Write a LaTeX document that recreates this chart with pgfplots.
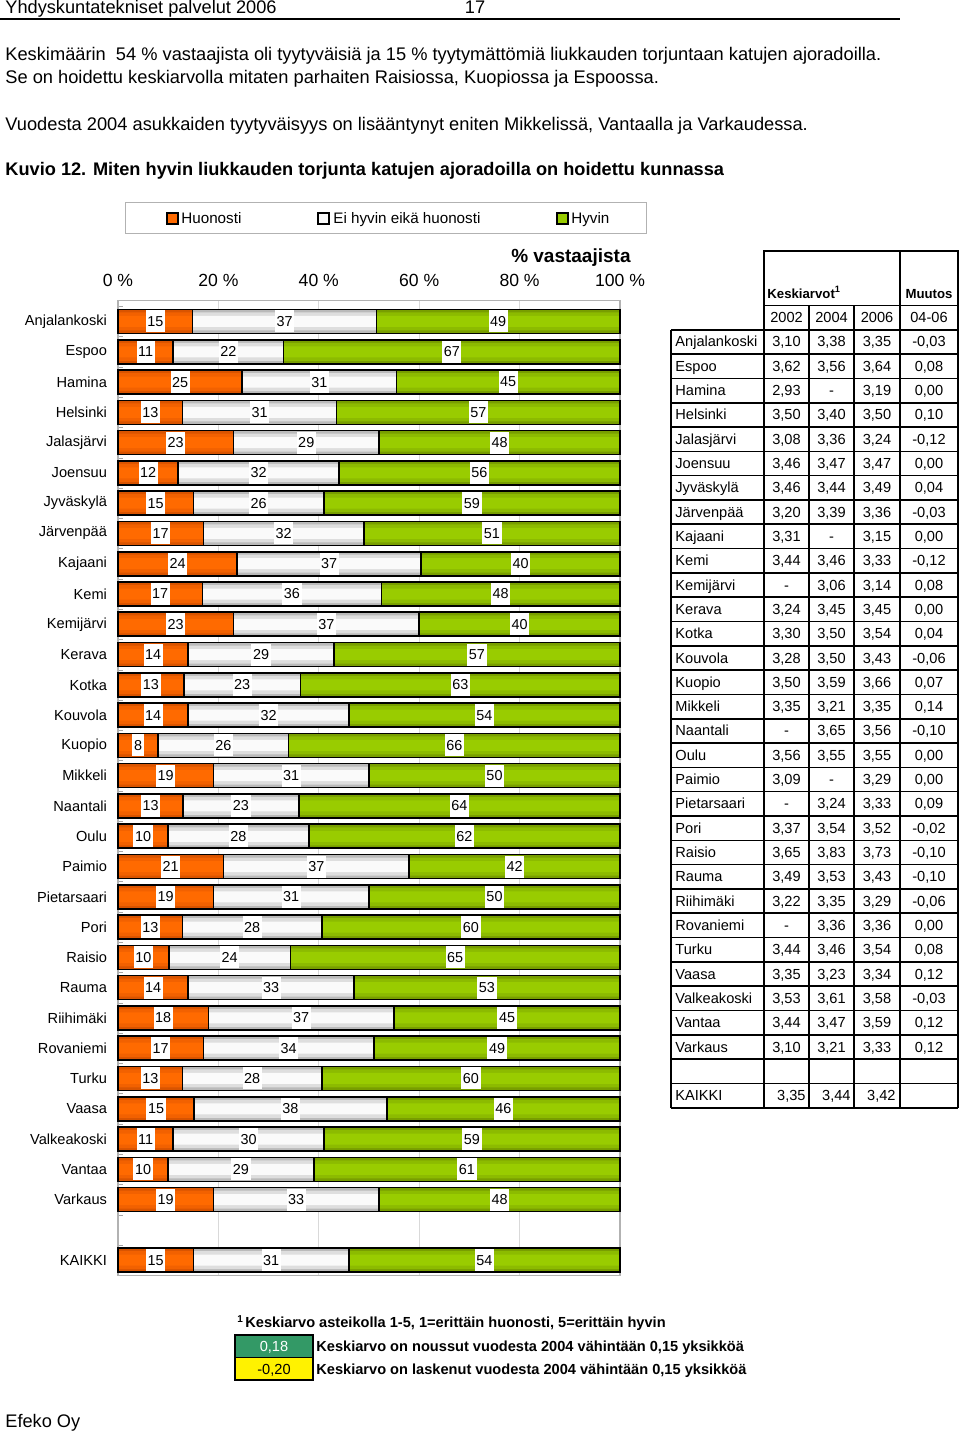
\documentclass[border=0pt]{standalone}
\usepackage{fontspec}
\setmainfont{Liberation Sans}
\usepackage{pgfplots}
\pgfplotsset{compat=1.18}
\usepackage{pgfplotstable}
\newcommand\fs[1]{\fontsize{#1pt}{#1pt}\selectfont}
\definecolor{orC}{HTML}{FF6A00}
\definecolor{orM}{HTML}{F26100}
\definecolor{orE}{HTML}{D95400}
\definecolor{grC}{HTML}{FAFAFA}
\definecolor{grM}{HTML}{DEDEDE}
\definecolor{grE}{HTML}{BABABA}
\definecolor{gnC}{HTML}{99CC00}
\definecolor{gnM}{HTML}{8CBB00}
\definecolor{gnE}{HTML}{789E00}
\definecolor{tabgreen}{HTML}{339966}

\pgfplotstableread{
y a b c
0 15 37 49
1 11 22 67
2 25 31 45
3 13 31 57
4 23 29 48
5 12 32 56
6 15 26 59
7 17 32 51
8 24 37 40
9 17 36 48
10 23 37 40
11 14 29 57
12 13 23 63
13 14 32 54
14 8 26 66
15 19 31 50
16 13 23 64
17 10 28 62
18 21 37 42
19 19 31 50
20 13 28 60
21 10 24 65
22 14 33 53
23 18 37 45
24 17 34 49
25 13 28 60
26 15 38 46
27 11 30 59
28 10 29 61
29 19 33 48
31 15 31 54
}\data

\pgfplotsset{
  geom/.style={at={(184.5pt,-393.9pt)}, anchor=center, scale only axis,
    width=251pt, height=487.5pt, xmin=0, xmax=100, ymin=-31.5, ymax=0.7, clip=false},
  layer/.style={geom, hide axis, xbar stacked, bar width=#1},
  table/sa/.style={x expr={\thisrow{a}*100/(\thisrow{a}+\thisrow{b}+\thisrow{c})}, y expr={-\thisrow{y}}},
  table/sb/.style={x expr={\thisrow{b}*100/(\thisrow{a}+\thisrow{b}+\thisrow{c})}, y expr={-\thisrow{y}}},
  table/sc/.style={x expr={\thisrow{c}*100/(\thisrow{a}+\thisrow{b}+\thisrow{c})}, y expr={-\thisrow{y}}},
  lab/.style={draw=none, mark=none, nodes near coords, point meta=explicit symbolic,
    every node near coord/.append style={fill=white, inner xsep=0.8pt, inner ysep=0pt, minimum height=11pt, font=\fs{7.2}, anchor=center, text=black}},
}

\newcommand\trow[6]{%
  \pgfmathsetmacro\ty{347+#1*24.31}%
  \node[anchor=base west,inner sep=0,font=\fs{7.3}] at (675,\ty) {#2};
  \node[anchor=base,inner sep=0,font=\fs{7.3}] at (786.5,\ty) {#3};
  \node[anchor=base,inner sep=0,font=\fs{7.3}] at (831.5,\ty) {#4};
  \node[anchor=base,inner sep=0,font=\fs{7.3}] at (877,\ty) {#5};
  \node[anchor=base,inner sep=0,font=\fs{7.3}] at (929,\ty) {#6};
}

\begin{document}
\begin{tikzpicture}[x=0.5pt,y=-0.5pt]
\useasboundingbox (0,0) rectangle (960,1433);
% header
\node[anchor=base west,inner sep=0,font=\fs{9.1}] at (5,14) {Yhdyskuntatekniset palvelut 2006};
\node[anchor=base,inner sep=0,font=\fs{9.1}] at (475,14) {17};
\draw[line width=1pt] (0,19.5) -- (900,19.5);
% body text
\node[anchor=base west,inner sep=0,font=\fs{9.13}] at (5,61) {Keskimäärin\ \ 54 \% vastaajista oli tyytyväisiä ja 15 \% tyytymättömiä liukkauden torjuntaan katujen ajoradoilla.};
\node[anchor=base west,inner sep=0,font=\fs{9.13}] at (5,84) {Se on hoidettu keskiarvolla mitaten parhaiten Raisiossa, Kuopiossa ja Espoossa.};
\node[anchor=base west,inner sep=0,font=\fs{9.13}] at (5,131) {Vuodesta 2004 asukkaiden tyytyväisyys on lisääntynyt eniten Mikkelissä, Vantaalla ja Varkaudessa.};
\node[anchor=base west,inner sep=0,font=\bfseries\fs{9.1}] at (5,176) {Kuvio 12. Miten hyvin liukkauden torjunta katujen ajoradoilla on hoidettu kunnassa};
% legend
\draw[gray!60,line width=0.5pt] (125,203) rectangle (646,234);
\draw[line width=0.6pt,fill=orC] (167,213) rectangle (178,224);
\node[anchor=base west,inner sep=0,font=\fs{7.6}] at (181,224) {Huonosti};
\draw[line width=0.6pt,fill=grC] (318,213) rectangle (329,224);
\node[anchor=base west,inner sep=0,font=\fs{7.6}] at (333,224) {Ei hyvin eikä huonosti};
\draw[line width=0.6pt,fill=gnC] (557,213) rectangle (568,224);
\node[anchor=base west,inner sep=0,font=\fs{7.6}] at (571,224) {Hyvin};
\node[anchor=base east,inner sep=0,font=\bfseries\fs{9.5}] at (631,263) {\% vastaajista};

% bars: base layer with axis
\begin{axis}[geom,
  xbar stacked, bar width=12pt,
  xtick={0,20,40,60,80,100},
  xticklabels={0 \%,20 \%,40 \%,60 \%,80 \%,100 \%},
  xticklabel pos=right, xtick pos=right,
  xticklabel style={font=\fs{8.8}, yshift=3.5pt},
  ytick={0,-1,-2,-3,-4,-5,-6,-7,-8,-9,-10,-11,-12,-13,-14,-15,-16,-17,-18,-19,-20,-21,-22,-23,-24,-25,-26,-27,-28,-29,-31},
  yticklabels={Anjalankoski,Espoo,Hamina,Helsinki,Jalasjärvi,Joensuu,Jyväskylä,Järvenpää,Kajaani,Kemi,Kemijärvi,Kerava,Kotka,Kouvola,Kuopio,Mikkeli,Naantali,Oulu,Paimio,Pietarsaari,Pori,Raisio,Rauma,Riihimäki,Rovaniemi,Turku,Vaasa,Valkeakoski,Vantaa,Varkaus,KAIKKI},
  yticklabel style={font=\fs{7.3}, xshift=-2pt},
  ytick pos=left,
  minor ytick={-31.5,-30.5,...,0.5},
  major tick length=0pt, minor tick length=2.5pt,
  minor tick style={gray!70},
  xmajorgrids, major grid style={gray!30,line width=0.6pt},
  axis line style={gray!60,line width=0.6pt},
  /pgf/number format/assume math mode=true,
]
\addplot[draw=none, fill=orE] table[sa] {\data};
\addplot[draw=none, fill=grE] table[sb] {\data};
\addplot[draw=none, fill=gnE] table[sc] {\data};
\end{axis}
\begin{axis}[layer=9pt]
\addplot[draw=none, fill=orM] table[sa] {\data};
\addplot[draw=none, fill=grM] table[sb] {\data};
\addplot[draw=none, fill=gnM] table[sc] {\data};
\end{axis}
\begin{axis}[layer=5.5pt]
\addplot[draw=none, fill=orC] table[sa] {\data};
\addplot[draw=none, fill=grC] table[sb] {\data};
\addplot[draw=none, fill=gnC] table[sc] {\data};
\end{axis}
\begin{axis}[layer=12pt]
\addplot[draw=black, line width=0.8pt, fill=none] table[sa] {\data};
\addplot[draw=black, line width=0.8pt, fill=none] table[sb] {\data};
\addplot[draw=black, line width=0.8pt, fill=none] table[sc] {\data};
\end{axis}

% value labels
\begin{axis}[geom, hide axis]
\addplot[lab] table[x expr={0.5*\thisrow{a}*100/(\thisrow{a}+\thisrow{b}+\thisrow{c})}, y expr={-\thisrow{y}}, meta=a] {\data};
\addplot[lab] table[x expr={(\thisrow{a}+0.5*\thisrow{b})*100/(\thisrow{a}+\thisrow{b}+\thisrow{c})}, y expr={-\thisrow{y}}, meta=b] {\data};
\addplot[lab] table[x expr={(\thisrow{a}+\thisrow{b}+0.5*\thisrow{c})*100/(\thisrow{a}+\thisrow{b}+\thisrow{c})}, y expr={-\thisrow{y}}, meta=c] {\data};
\end{axis}

% table grid
\begin{scope}[line width=0.8pt]
\draw (764,251) rectangle (958,305.5);
\draw (900,251) -- (900,305.5);
\foreach \xx in {764,809,854,900,958} \draw (\xx,305.5) -- (\xx,329.8);
\foreach \k in {0,...,32} \draw (671,329.8+\k*24.31) -- (958,329.8+\k*24.31);
\foreach \xx in {671,764,809,854,900,958} \draw (\xx,329.8) -- (\xx,1107.7);
\end{scope}
\node[anchor=base west,inner sep=0,font=\bfseries\fs{6.6}] at (767,299) {Keskiarvot\textsuperscript{1}};
\node[anchor=base,inner sep=0,font=\bfseries\fs{6.6}] at (929,299) {Muutos};
\node[anchor=base,inner sep=0,font=\fs{7.3}] at (786.5,322) {2002};
\node[anchor=base,inner sep=0,font=\fs{7.3}] at (831.5,322) {2004};
\node[anchor=base,inner sep=0,font=\fs{7.3}] at (877,322) {2006};
\node[anchor=base,inner sep=0,font=\fs{7.3}] at (929,322) {04-06};
\trow{0}{Anjalankoski}{3,10}{3,38}{3,35}{-0,03}
\trow{1}{Espoo}{3,62}{3,56}{3,64}{0,08}
\trow{2}{Hamina}{2,93}{-}{3,19}{0,00}
\trow{3}{Helsinki}{3,50}{3,40}{3,50}{0,10}
\trow{4}{Jalasjärvi}{3,08}{3,36}{3,24}{-0,12}
\trow{5}{Joensuu}{3,46}{3,47}{3,47}{0,00}
\trow{6}{Jyväskylä}{3,46}{3,44}{3,49}{0,04}
\trow{7}{Järvenpää}{3,20}{3,39}{3,36}{-0,03}
\trow{8}{Kajaani}{3,31}{-}{3,15}{0,00}
\trow{9}{Kemi}{3,44}{3,46}{3,33}{-0,12}
\trow{10}{Kemijärvi}{-}{3,06}{3,14}{0,08}
\trow{11}{Kerava}{3,24}{3,45}{3,45}{0,00}
\trow{12}{Kotka}{3,30}{3,50}{3,54}{0,04}
\trow{13}{Kouvola}{3,28}{3,50}{3,43}{-0,06}
\trow{14}{Kuopio}{3,50}{3,59}{3,66}{0,07}
\trow{15}{Mikkeli}{3,35}{3,21}{3,35}{0,14}
\trow{16}{Naantali}{-}{3,65}{3,56}{-0,10}
\trow{17}{Oulu}{3,56}{3,55}{3,55}{0,00}
\trow{18}{Paimio}{3,09}{-}{3,29}{0,00}
\trow{19}{Pietarsaari}{-}{3,24}{3,33}{0,09}
\trow{20}{Pori}{3,37}{3,54}{3,52}{-0,02}
\trow{21}{Raisio}{3,65}{3,83}{3,73}{-0,10}
\trow{22}{Rauma}{3,49}{3,53}{3,43}{-0,10}
\trow{23}{Riihimäki}{3,22}{3,35}{3,29}{-0,06}
\trow{24}{Rovaniemi}{-}{3,36}{3,36}{0,00}
\trow{25}{Turku}{3,44}{3,46}{3,54}{0,08}
\trow{26}{Vaasa}{3,35}{3,23}{3,34}{0,12}
\trow{27}{Valkeakoski}{3,53}{3,61}{3,58}{-0,03}
\trow{28}{Vantaa}{3,44}{3,47}{3,59}{0,12}
\trow{29}{Varkaus}{3,10}{3,21}{3,33}{0,12}
\pgfmathsetmacro\tk{347+31*24.31}
\node[anchor=base west,inner sep=0,font=\fs{7.3}] at (675,\tk) {KAIKKI};
\node[anchor=base east,inner sep=0,font=\fs{7.3}] at (806,\tk) {3,35};
\node[anchor=base east,inner sep=0,font=\fs{7.3}] at (851,\tk) {3,44};
\node[anchor=base east,inner sep=0,font=\fs{7.3}] at (896,\tk) {3,42};

% footnote
\node[anchor=base west,inner sep=0,font=\bfseries\fs{5}] at (237,1322) {1};
\node[anchor=base west,inner sep=0,font=\bfseries\fs{7.3}] at (245,1327) {Keskiarvo asteikolla 1-5, 1=erittäin huonosti, 5=erittäin hyvin};
\draw[line width=0.6pt,fill=tabgreen] (235,1335) rectangle (313,1357.5);
\draw[line width=0.6pt,fill=yellow] (235,1357.5) rectangle (313,1380);
\node[anchor=base,inner sep=0,font=\fs{7.3},text=white] at (274,1351) {0,18};
\node[anchor=base,inner sep=0,font=\fs{7.3}] at (274,1374) {-0,20};
\node[anchor=base west,inner sep=0,font=\bfseries\fs{7.3}] at (316,1351) {Keskiarvo on noussut vuodesta 2004 vähintään 0,15 yksikköä};
\node[anchor=base west,inner sep=0,font=\bfseries\fs{7.3}] at (316,1374) {Keskiarvo on laskenut vuodesta 2004 vähintään 0,15 yksikköä};
\node[anchor=base west,inner sep=0,font=\fs{9.1}] at (5,1427) {Efeko Oy};
\end{tikzpicture}
\end{document}
